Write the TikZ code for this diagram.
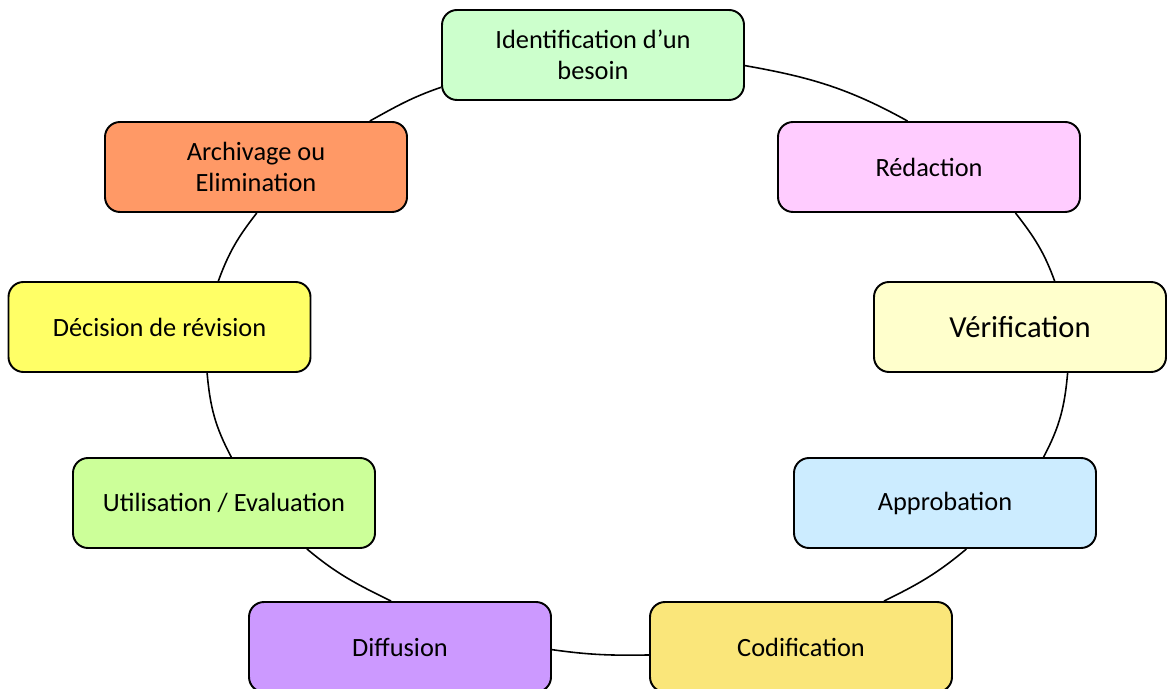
\documentclass[tikz,border=0pt]{standalone}
\usepackage{fontspec}
\setmainfont{Carlito}
\definecolor{vertclair}{HTML}{CCFFCC}
\definecolor{rose}{HTML}{FFCCFF}
\definecolor{jaunepale}{HTML}{FFFFCC}
\definecolor{bleuclair}{HTML}{CCECFF}
\definecolor{orjaune}{HTML}{FAE67A}
\definecolor{violet}{HTML}{CC99FF}
\definecolor{vertanis}{HTML}{CCFF99}
\definecolor{jaunevif}{HTML}{FFFF66}
\definecolor{orange}{HTML}{FF9966}
\begin{document}
\begin{tikzpicture}[
    etape/.style={draw, line width=1.1pt, rounded corners=0.3cm,
      minimum width=6.04cm, minimum height=1.8cm, align=center,
      font=\fontsize{15}{17.6}\selectfont, inner sep=2pt},
    lien/.style={line width=0.9pt}]
  \useasboundingbox (0,0) rectangle (23.36,-13.78);
  \clip (0,0) rectangle (23.36,-13.78);

  \node[etape, fill=vertclair] (ident) at (11.86,-1.10) {Identification d’un\\besoin};
  \node[etape, fill=rose] (redac) at (18.58,-3.34) {Rédaction};
  \node[etape, fill=jaunepale, minimum width=5.84cm,
    font=\fontsize{17.4}{20}\selectfont] (verif) at (20.40,-6.54) {Vérification};
  \node[etape, fill=bleuclair] (approb) at (18.90,-10.06) {Approbation};
  \node[etape, fill=orjaune] (codif) at (16.02,-12.94) {Codification};
  \node[etape, fill=violet] (diff) at (8.00,-12.94) {Diffusion};
  \node[etape, fill=vertanis] (util) at (4.48,-10.06) {Utilisation / Evaluation};
  \node[etape, fill=jaunevif] (decis) at (3.19,-6.54) {Décision de révision};
  \node[etape, fill=orange] (archiv) at (5.12,-3.34) {Archivage ou\\Elimination};

  % cycle
  \draw[lien] (ident.-4) to[out=-10, in=151] (redac.115);
  \draw[lien] (redac.-28) to[out=-52, in=110] (verif.53);
  \draw[lien] (verif.-44) to[out=-95, in=62] (approb.25);
  \draw[lien] (approb.-65) to[out=-140, in=26] (codif.29);
  \draw[lien] (codif.-177) to[out=-179, in=-8] (diff.-1);
  \draw[lien] (diff.101) to[out=154, in=-40] (util.-29);
  \draw[lien] (util.81) to[out=118, in=-85] (decis.-44);
  \draw[lien] (decis.38) to[out=70, in=-128] (archiv.-89);
  \draw[lien] (archiv.22) to[out=29, in=-161] (ident.-168);
\end{tikzpicture}
\end{document}
